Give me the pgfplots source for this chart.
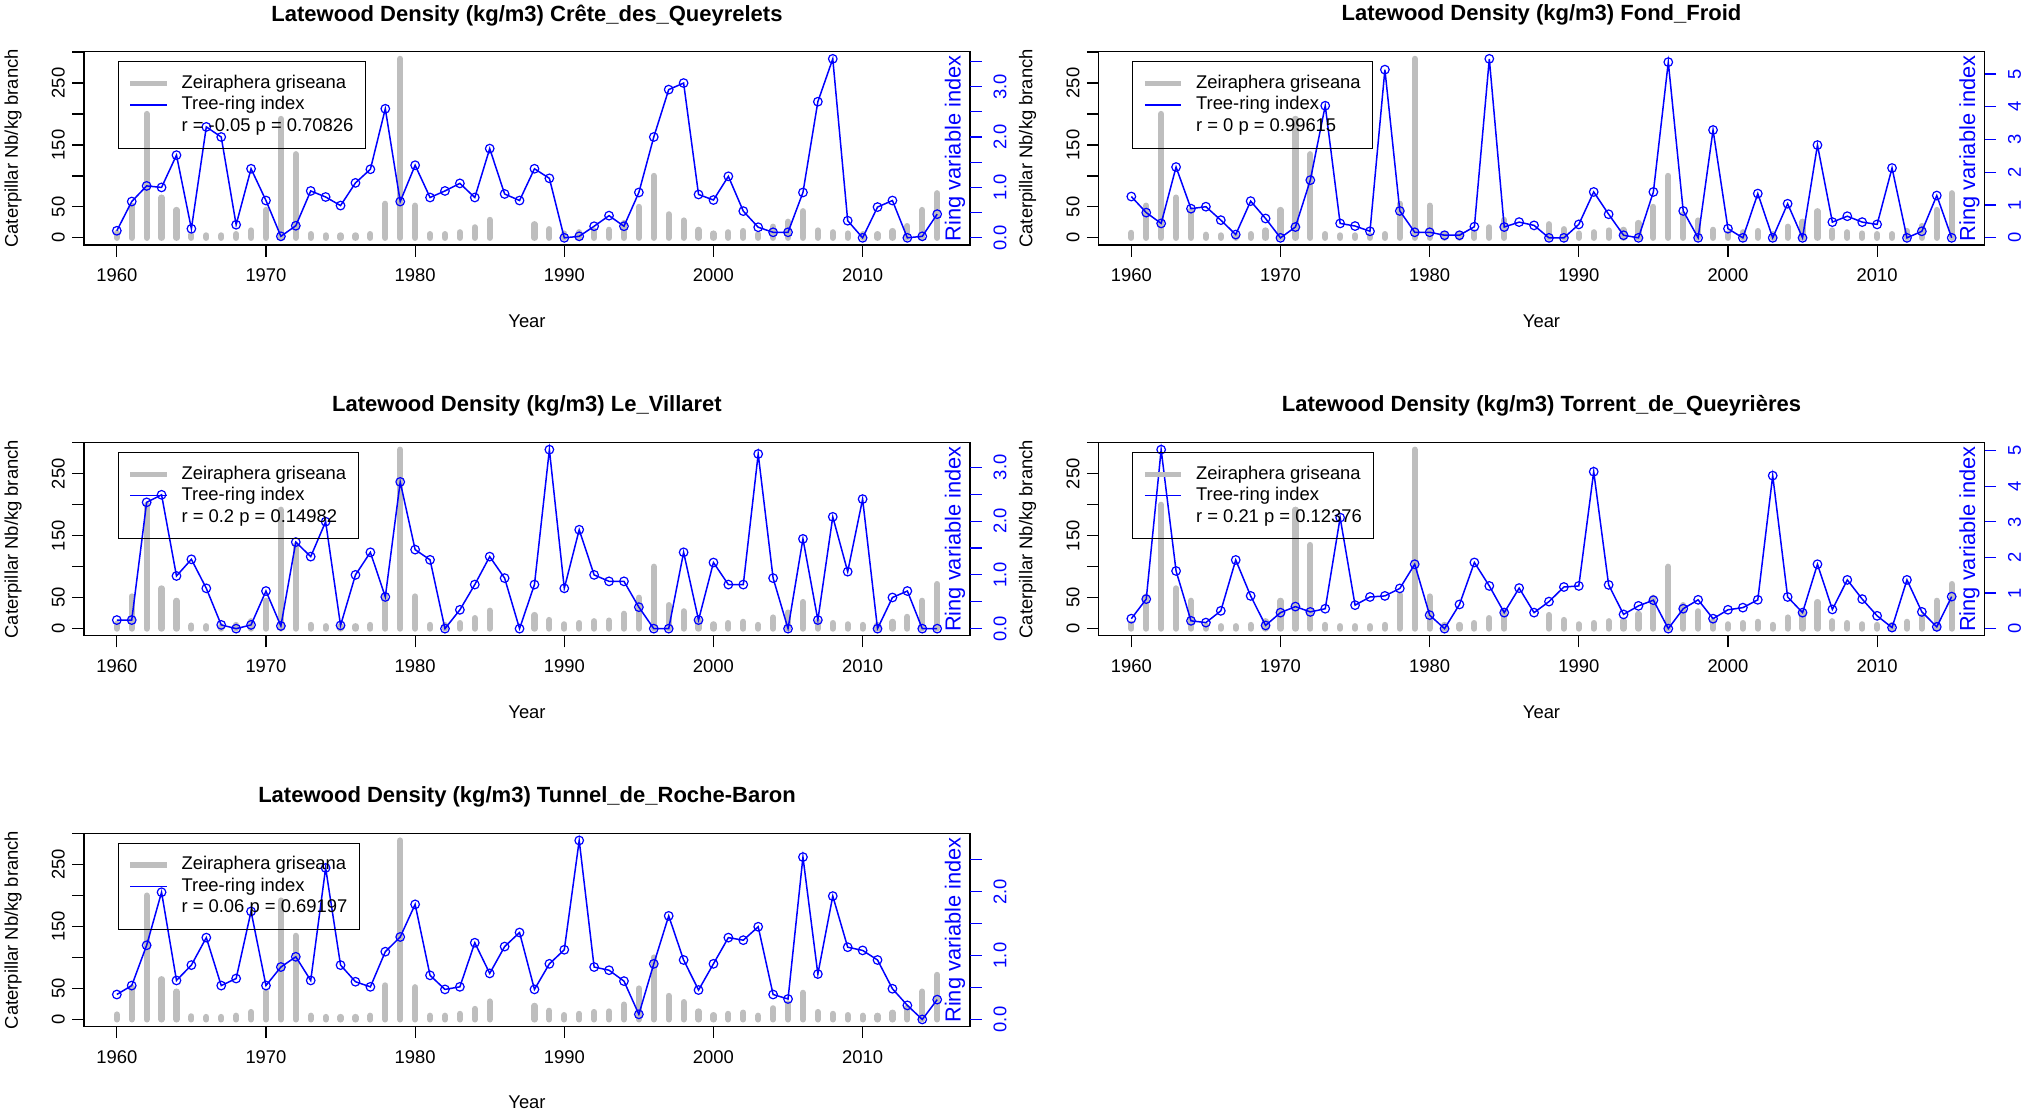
\documentclass[border=0pt]{standalone}
\usepackage{pgfplots}
\pgfplotsset{compat=1.18}
\usepackage{pgfplotstable}
\usepackage{fontspec}
\setmainfont{Liberation Sans}
\definecolor{bargray}{RGB}{190,190,190}
\definecolor{rblue}{RGB}{0,0,255}

\pgfplotstableread{
year bars l1 l2 l3 l4 l5
1960 8 0.14 1.26 0.16 0.28 0.39
1961 52 0.72 0.77 0.16 0.83 0.53
1962 200 1.03 0.44 2.35 5.03 1.16
1963 65 1.00 2.16 2.49 1.62 1.99
1964 45 1.64 0.89 0.98 0.22 0.61
1965 5 0.18 0.95 1.29 0.17 0.85
1966 4 2.20 0.54 0.75 0.50 1.28
1967 4 2.00 0.10 0.07 1.93 0.53
1968 6 0.26 1.12 0.00 0.92 0.64
1969 12 1.37 0.59 0.07 0.09 1.69
1970 45 0.74 0.00 0.70 0.45 0.53
1971 192 0.03 0.33 0.05 0.62 0.82
1972 135 0.24 1.76 1.61 0.47 0.98
1973 6 0.93 4.03 1.34 0.56 0.61
1974 4 0.81 0.44 1.99 3.12 2.37
1975 4 0.64 0.36 0.06 0.66 0.85
1976 4 1.09 0.20 1.00 0.89 0.59
1977 6 1.36 5.13 1.42 0.92 0.51
1978 55 2.56 0.82 0.59 1.13 1.06
1979 289 0.72 0.17 2.73 1.81 1.29
1980 52 1.44 0.17 1.47 0.38 1.80
1981 6 0.80 0.08 1.28 0.00 0.69
1982 6 0.93 0.08 0.00 0.68 0.47
1983 9 1.08 0.34 0.35 1.86 0.51
1984 17 0.80 5.46 0.82 1.20 1.20
1985 29 1.77 0.33 1.34 0.45 0.72
1986 nan 0.87 0.48 0.94 1.14 1.14
1987 nan 0.74 0.38 0.00 0.45 1.36
1988 22 1.37 0.00 0.82 0.76 0.47
1989 14 1.18 0.00 3.33 1.17 0.87
1990 7 0.00 0.41 0.75 1.20 1.09
1991 9 0.03 1.40 1.84 4.41 2.80
1992 12 0.23 0.72 1.00 1.23 0.82
1993 13 0.44 0.08 0.88 0.40 0.77
1994 24 0.23 0.00 0.88 0.64 0.60
1995 50 0.90 1.40 0.40 0.80 0.08
1996 100 2.00 5.36 0.00 0.00 0.87
1997 38 2.94 0.82 0.00 0.56 1.62
1998 28 3.07 0.00 1.42 0.81 0.93
1999 13 0.86 3.29 0.16 0.28 0.46
2000 7 0.75 0.28 1.23 0.53 0.87
2001 9 1.22 0.00 0.82 0.59 1.28
2002 11 0.53 1.35 0.82 0.81 1.24
2003 6 0.21 0.00 3.25 4.30 1.45
2004 18 0.11 1.04 0.94 0.89 0.39
2005 26 0.11 0.00 0.00 0.45 0.32
2006 43 0.90 2.83 1.67 1.81 2.54
2007 12 2.70 0.48 0.16 0.54 0.71
2008 9 3.55 0.66 2.08 1.37 1.93
2009 7 0.34 0.48 1.06 0.83 1.13
2010 6 0.00 0.41 2.41 0.36 1.08
2011 6 0.61 2.13 0.00 0.03 0.93
2012 11 0.74 0.00 0.58 1.37 0.48
2013 19 0.00 0.20 0.70 0.47 0.22
2014 45 0.03 1.29 0.00 0.05 0.00
2015 72 0.47 0.00 0.00 0.90 0.31
}\data

\newcommand{\txt}{\fontsize{9.2}{11}\selectfont}
\pgfplotsset{
  legend image code/.code={\draw[#1] (0pt,0pt) -- (18.3pt,0pt);},
  panelbase/.style={scale only axis, width=443pt, height=96.65pt,
    xmin=1957.8, xmax=2017.2, anchor=south west, clip=false,
    tick align=outside, major tick length=5.8pt,
    /pgf/number format/assume math mode=true,
    tick label style={font=\txt},
    axis line style={line width=0.6pt},
    every tick/.style={line width=0.6pt}},
}

% #1 x, #2 y, #3 title, #4 column, #5 ymin, #6 ymax, #7 ytick, #8 yticklabels, #9 r text
\newcommand{\panel}[9]{%
\begin{axis}[panelbase, at={(#1,#2)}, ymin=-11.56, ymax=300.56,
  xtick={1960,1970,1980,1990,2000,2010},
  xticklabels={1960,1970,1980,1990,2000,2010},
  xtick pos=bottom, ytick pos=left,
  ytick={0,50,100,150,200,250,300}, yticklabels={0,50,,150,,250,},
  yticklabel style={rotate=90, anchor=center}, yticklabel shift=7pt,
  xticklabel style={anchor=center}, xticklabel shift=9.5pt]
\addplot[ycomb, bargray, line width=3.1pt, line cap=round, no markers] table[x=year,y=bars]{\data};
\node[font=\bfseries\fontsize{11}{13}\selectfont] at ([yshift=18.2pt]rel axis cs:0.5,1) {#3};
\node[font=\txt] at ([yshift=-38pt]rel axis cs:0.5,0) {Year};
\node[rotate=90, font=\txt] at ([xshift=-35.5pt]rel axis cs:0,0.5) {Caterpillar Nb/kg branch};
\end{axis}
\begin{axis}[panelbase, at={(#1,#2)}, ymin=#5, ymax=#6,
  axis x line=none, axis y line*=right, y axis line style={draw=none},
  ytick={#7}, yticklabels={#8}, ytick pos=right,
  y tick style={rblue, line width=0.6pt},
  yticklabel style={rotate=90, anchor=center, text=rblue}, yticklabel shift=9.2pt,
  legend style={at={(0.038,0.95)}, anchor=north west, draw=black, fill=none,
    line width=0.5pt, font=\txt, inner xsep=4.7pt, inner ysep=5.4pt,
    nodes={inner sep=1.2pt, text height=6.6pt, text depth=1.8pt}, row sep=-0.05pt,
    column sep=4.8pt},
  legend cell align=left]
\addlegendimage{bargray, line width=2.7pt}
\addlegendimage{rblue, line width=0.7pt}
\addlegendimage{empty legend}
\addplot[forget plot, rblue, line width=0.75pt, mark=o, mark size=2.15pt, mark options={solid, line width=0.6pt}] table[x=year,y=#4]{\data};
\legend{Zeiraphera griseana, Tree-ring index, {#9}}
\node[rotate=90, text=rblue, font=\fontsize{10.9}{13}\selectfont] at ([xshift=-7.5pt]rel axis cs:1,0.5) {Ring variable index};
\end{axis}
}

\begin{document}
\begin{tikzpicture}
\path[use as bounding box] (0,0) rectangle (1014.5pt,555pt);
\panel{42pt}{432.5pt}{Latewood Density (kg/m3) Crête\_des\_Queyrelets}{l1}{-0.142}{3.692}{0,0.5,1,1.5,2,2.5,3,3.5}{0.0,,1.0,,2.0,,3.0,}{r = -0.05 p = 0.70826}
\panel{549.25pt}{432.5pt}{Latewood Density (kg/m3) Fond\_Froid}{l2}{-0.218}{5.678}{0,1,2,3,4,5}{0,1,2,3,4,5}{r = 0 p = 0.99615}
\panel{42pt}{237.1pt}{Latewood Density (kg/m3) Le\_Villaret}{l3}{-0.133}{3.463}{0,0.5,1,1.5,2,2.5,3}{0.0,,1.0,,2.0,,3.0}{r = 0.2 p = 0.14982}
\panel{549.25pt}{237.1pt}{Latewood Density (kg/m3) Torrent\_de\_Queyrières}{l4}{-0.201}{5.231}{0,1,2,3,4,5}{0,1,2,3,4,5}{r = 0.21 p = 0.12376}
\panel{42pt}{41.7pt}{Latewood Density (kg/m3) Tunnel\_de\_Roche-Baron}{l5}{-0.112}{2.912}{0,0.5,1,1.5,2,2.5}{0.0,,1.0,,2.0,}{r = 0.06 p = 0.69197}
\end{tikzpicture}
\end{document}
